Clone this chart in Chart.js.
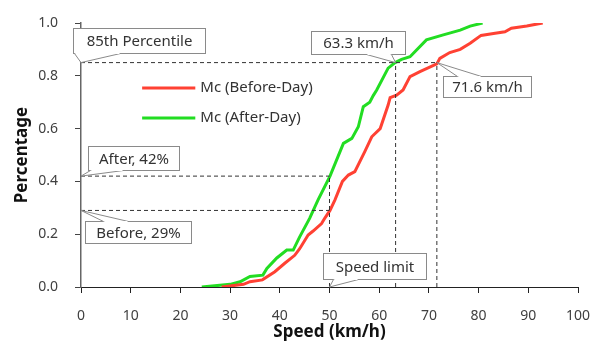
<!DOCTYPE html>
<html>
<head>
    <meta charset="utf-8">
    <title>Speed distribution</title>
    <script src="https://cdn.jsdelivr.net/npm/chart.js"></script>
    <style>
        html, body { margin: 0; padding: 0; background: #fff; }
        #wrap { width: 598px; height: 342px; }
    </style>
</head>
<body>
<div id="wrap"><canvas id="speed"></canvas></div>
<script>
    // cumulative speed curves
    const afterSpeed = [24.3, 30, 32, 34, 36.6, 37.4, 39.4, 41.4, 42.7, 44, 46, 47.7, 50.1, 52.8, 54.5, 55.8, 56.8, 58.1, 58.8, 59.5, 61.8, 63.2, 64.5, 66.2, 69.5, 72.9, 76.3, 78.3, 80.8];
    const afterPct = [0, 0.01, 0.02, 0.04, 0.045, 0.07, 0.11, 0.14, 0.14, 0.19, 0.26, 0.33, 0.42, 0.544, 0.563, 0.607, 0.683, 0.70, 0.725, 0.746, 0.829, 0.85, 0.862, 0.872, 0.936, 0.955, 0.973, 0.988, 1.0];

    const beforeSpeed = [28.3, 32.7, 34, 36.5, 39, 41, 43, 44, 45.7, 46.7, 48.4, 49.1, 50.1, 51.1, 52.6, 53.8, 55.1, 57.1, 58.5, 60.2, 61.8, 62.2, 63.5, 64.8, 66.2, 68.2, 71.6, 72.2, 74.2, 76.3, 78.3, 80.5, 83, 85.3, 86.6, 89.7, 92.9];
    const beforePct = [0, 0.01, 0.02, 0.027, 0.058, 0.09, 0.12, 0.145, 0.197, 0.212, 0.24, 0.262, 0.29, 0.33, 0.40, 0.424, 0.437, 0.513, 0.569, 0.60, 0.689, 0.717, 0.727, 0.746, 0.797, 0.816, 0.845, 0.866, 0.888, 0.90, 0.923, 0.953, 0.96, 0.967, 0.98, 0.989, 1.0];

    const seriesNames = ['Mc (Before-Day)', 'Mc (After-Day)'];

    const speedLimit = 50;
    const pct85 = 0.85;
    const after85 = 63.3;
    const before85 = 71.6;
    const afterAtLimit = 0.42;
    const beforeAtLimit = 0.29;

    const xTicks = [0, 10, 20, 30, 40, 50, 60, 70, 80, 90, 100];
    const yTicks = [0, 0.2, 0.4, 0.6, 0.8, 1.0];

    const RED = '#ff4133';
    const GREEN = '#22dd22';
    const FONT = '"Noto Sans", sans-serif';

    function pts(xs, ys) { return xs.map((x, i) => ({ x: x, y: ys[i] })); }

    function guide(points) {
        return {
            data: points,
            borderColor: '#333',
            borderWidth: 1,
            borderDash: [4, 3],
            pointRadius: 0,
            fill: false,
            tension: 0
        };
    }

    // callout boxes: anchor in data units, box offset in px from anchor
    const callouts = [
        { text: '85th Percentile', x: 0, y: pct85, box: [-8, -35, 132, 25], wedge: [[1, 25], [47, 25]] },
        { text: after85 + ' km/h', x: after85, y: pct85, box: [-85, -32, 94, 23], wedge: [[55, 23], [80, 23]] },
        { text: before85 + ' km/h', x: before85, y: pct85, box: [6, 13, 88, 21], wedge: [[14, 0], [38, 0]] },
        { text: 'After, 42%', x: 0, y: afterAtLimit, box: [7, -30, 91, 24], wedge: [[2, 24], [35, 24]] },
        { text: 'Before, 29%', x: 0, y: beforeAtLimit, box: [4, 11, 106, 22], wedge: [[18, 0], [43, 0]] },
        { text: 'Speed limit', x: speedLimit, y: 0, box: [-7, -34, 103, 26], wedge: [[10, 26], [35, 26]] }
    ];

    const calloutPlugin = {
        id: 'callouts',
        afterDatasetsDraw(chart) {
            const ctx = chart.ctx;
            const xs = chart.scales.x, ys = chart.scales.y;
            ctx.save();
            ctx.font = '15px ' + FONT;
            ctx.textAlign = 'center';
            ctx.textBaseline = 'middle';
            callouts.forEach(c => {
                const px = xs.getPixelForValue(c.x), py = ys.getPixelForValue(c.y);
                const bx = Math.round(px + c.box[0]) + 0.5, by = Math.round(py + c.box[1]) + 0.5;
                const w = c.box[2], h = c.box[3];
                ctx.fillStyle = '#fff';
                ctx.strokeStyle = '#8a8a8a';
                ctx.lineWidth = 1;
                ctx.fillRect(bx, by, w, h);
                ctx.strokeRect(bx, by, w, h);
                // wedge pointing to the anchor
                ctx.beginPath();
                ctx.moveTo(bx + c.wedge[0][0], by + c.wedge[0][1]);
                ctx.lineTo(px, py);
                ctx.lineTo(bx + c.wedge[1][0], by + c.wedge[1][1]);
                ctx.fill();
                ctx.stroke();
                ctx.strokeStyle = '#fff';
                ctx.beginPath();
                ctx.moveTo(bx + c.wedge[0][0] + 1, by + c.wedge[0][1]);
                ctx.lineTo(bx + c.wedge[1][0] - 1, by + c.wedge[1][1]);
                ctx.stroke();
                ctx.fillStyle = '#333';
                ctx.fillText(c.text, bx + w / 2, by + h / 2 + 1);
            });
            ctx.restore();
        }
    };

    // legend inside the plot
    const legendPlugin = {
        id: 'innerLegend',
        afterDatasetsDraw(chart) {
            const ctx = chart.ctx;
            const xs = chart.scales.x, ys = chart.scales.y;
            const colors = [RED, GREEN];
            const rows = [0.754, 0.64];
            ctx.save();
            ctx.font = '15px ' + FONT;
            ctx.textBaseline = 'middle';
            seriesNames.forEach((name, i) => {
                const y = ys.getPixelForValue(rows[i]);
                const x0 = xs.getPixelForValue(12.3), x1 = xs.getPixelForValue(23);
                ctx.strokeStyle = colors[i];
                ctx.lineWidth = 3;
                ctx.beginPath();
                ctx.moveTo(x0, y);
                ctx.lineTo(x1, y);
                ctx.stroke();
                ctx.fillStyle = '#333';
                ctx.fillText(name, x1 + 5, y);
            });
            ctx.restore();
        }
    };

    new Chart(document.getElementById('speed'), {
        type: 'line',
        data: {
            datasets: [
                guide([{ x: 0, y: pct85 }, { x: before85, y: pct85 }]),
                guide([{ x: after85, y: 0 }, { x: after85, y: pct85 }]),
                guide([{ x: before85, y: 0 }, { x: before85, y: pct85 }]),
                guide([{ x: 0, y: afterAtLimit }, { x: speedLimit, y: afterAtLimit }]),
                guide([{ x: 0, y: beforeAtLimit }, { x: speedLimit, y: beforeAtLimit }]),
                guide([{ x: speedLimit, y: 0 }, { x: speedLimit, y: afterAtLimit }]),
                {
                    label: seriesNames[0],
                    data: pts(beforeSpeed, beforePct),
                    borderColor: RED,
                    borderWidth: 3,
                    pointRadius: 0,
                    tension: 0
                },
                {
                    label: seriesNames[1],
                    data: pts(afterSpeed, afterPct),
                    borderColor: GREEN,
                    borderWidth: 3,
                    pointRadius: 0,
                    tension: 0
                }
            ]
        },
        options: {
            responsive: true,
            maintainAspectRatio: false,
            animation: false,
            layout: { padding: { left: 12, right: 20, top: 23, bottom: 0 } },
            plugins: {
                legend: { display: false },
                tooltip: { enabled: false }
            },
            scales: {
                x: {
                    type: 'linear',
                    min: 0,
                    max: 100,
                    afterBuildTicks: s => { s.ticks = xTicks.map(v => ({ value: v })); },
                    afterFit: s => { s.height = 55; s.paddingLeft = 0; s.paddingRight = 0; },
                    grid: { drawOnChartArea: false, drawTicks: true, tickLength: 6, color: '#222' },
                    border: { color: '#222', width: 1 },
                    ticks: { color: '#404040', font: { family: FONT, size: 14 }, padding: 15, maxRotation: 0 },
                    title: { display: true, text: 'Speed (km/h)', color: '#111', font: { family: FONT, size: 17, weight: 'bold' }, padding: { top: 0, bottom: 0 } }
                },
                y: {
                    min: 0,
                    max: 1,
                    afterBuildTicks: s => { s.ticks = yTicks.map(v => ({ value: v })); },
                    afterFit: s => { s.width = 69; s.paddingTop = 0; s.paddingBottom = 0; },
                    grid: { drawOnChartArea: false, drawTicks: true, tickLength: 6, color: '#444' },
                    border: { color: '#666', width: 1.5 },
                    ticks: { color: '#404040', font: { family: FONT, size: 14 }, padding: 17, callback: v => v.toFixed(1) },
                    title: { display: true, text: 'Percentage', color: '#111', font: { family: FONT, size: 17, weight: 'bold' }, padding: { top: 0, bottom: 4 } }
                }
            }
        },
        plugins: [legendPlugin, calloutPlugin]
    });
</script>
</body>
</html>
